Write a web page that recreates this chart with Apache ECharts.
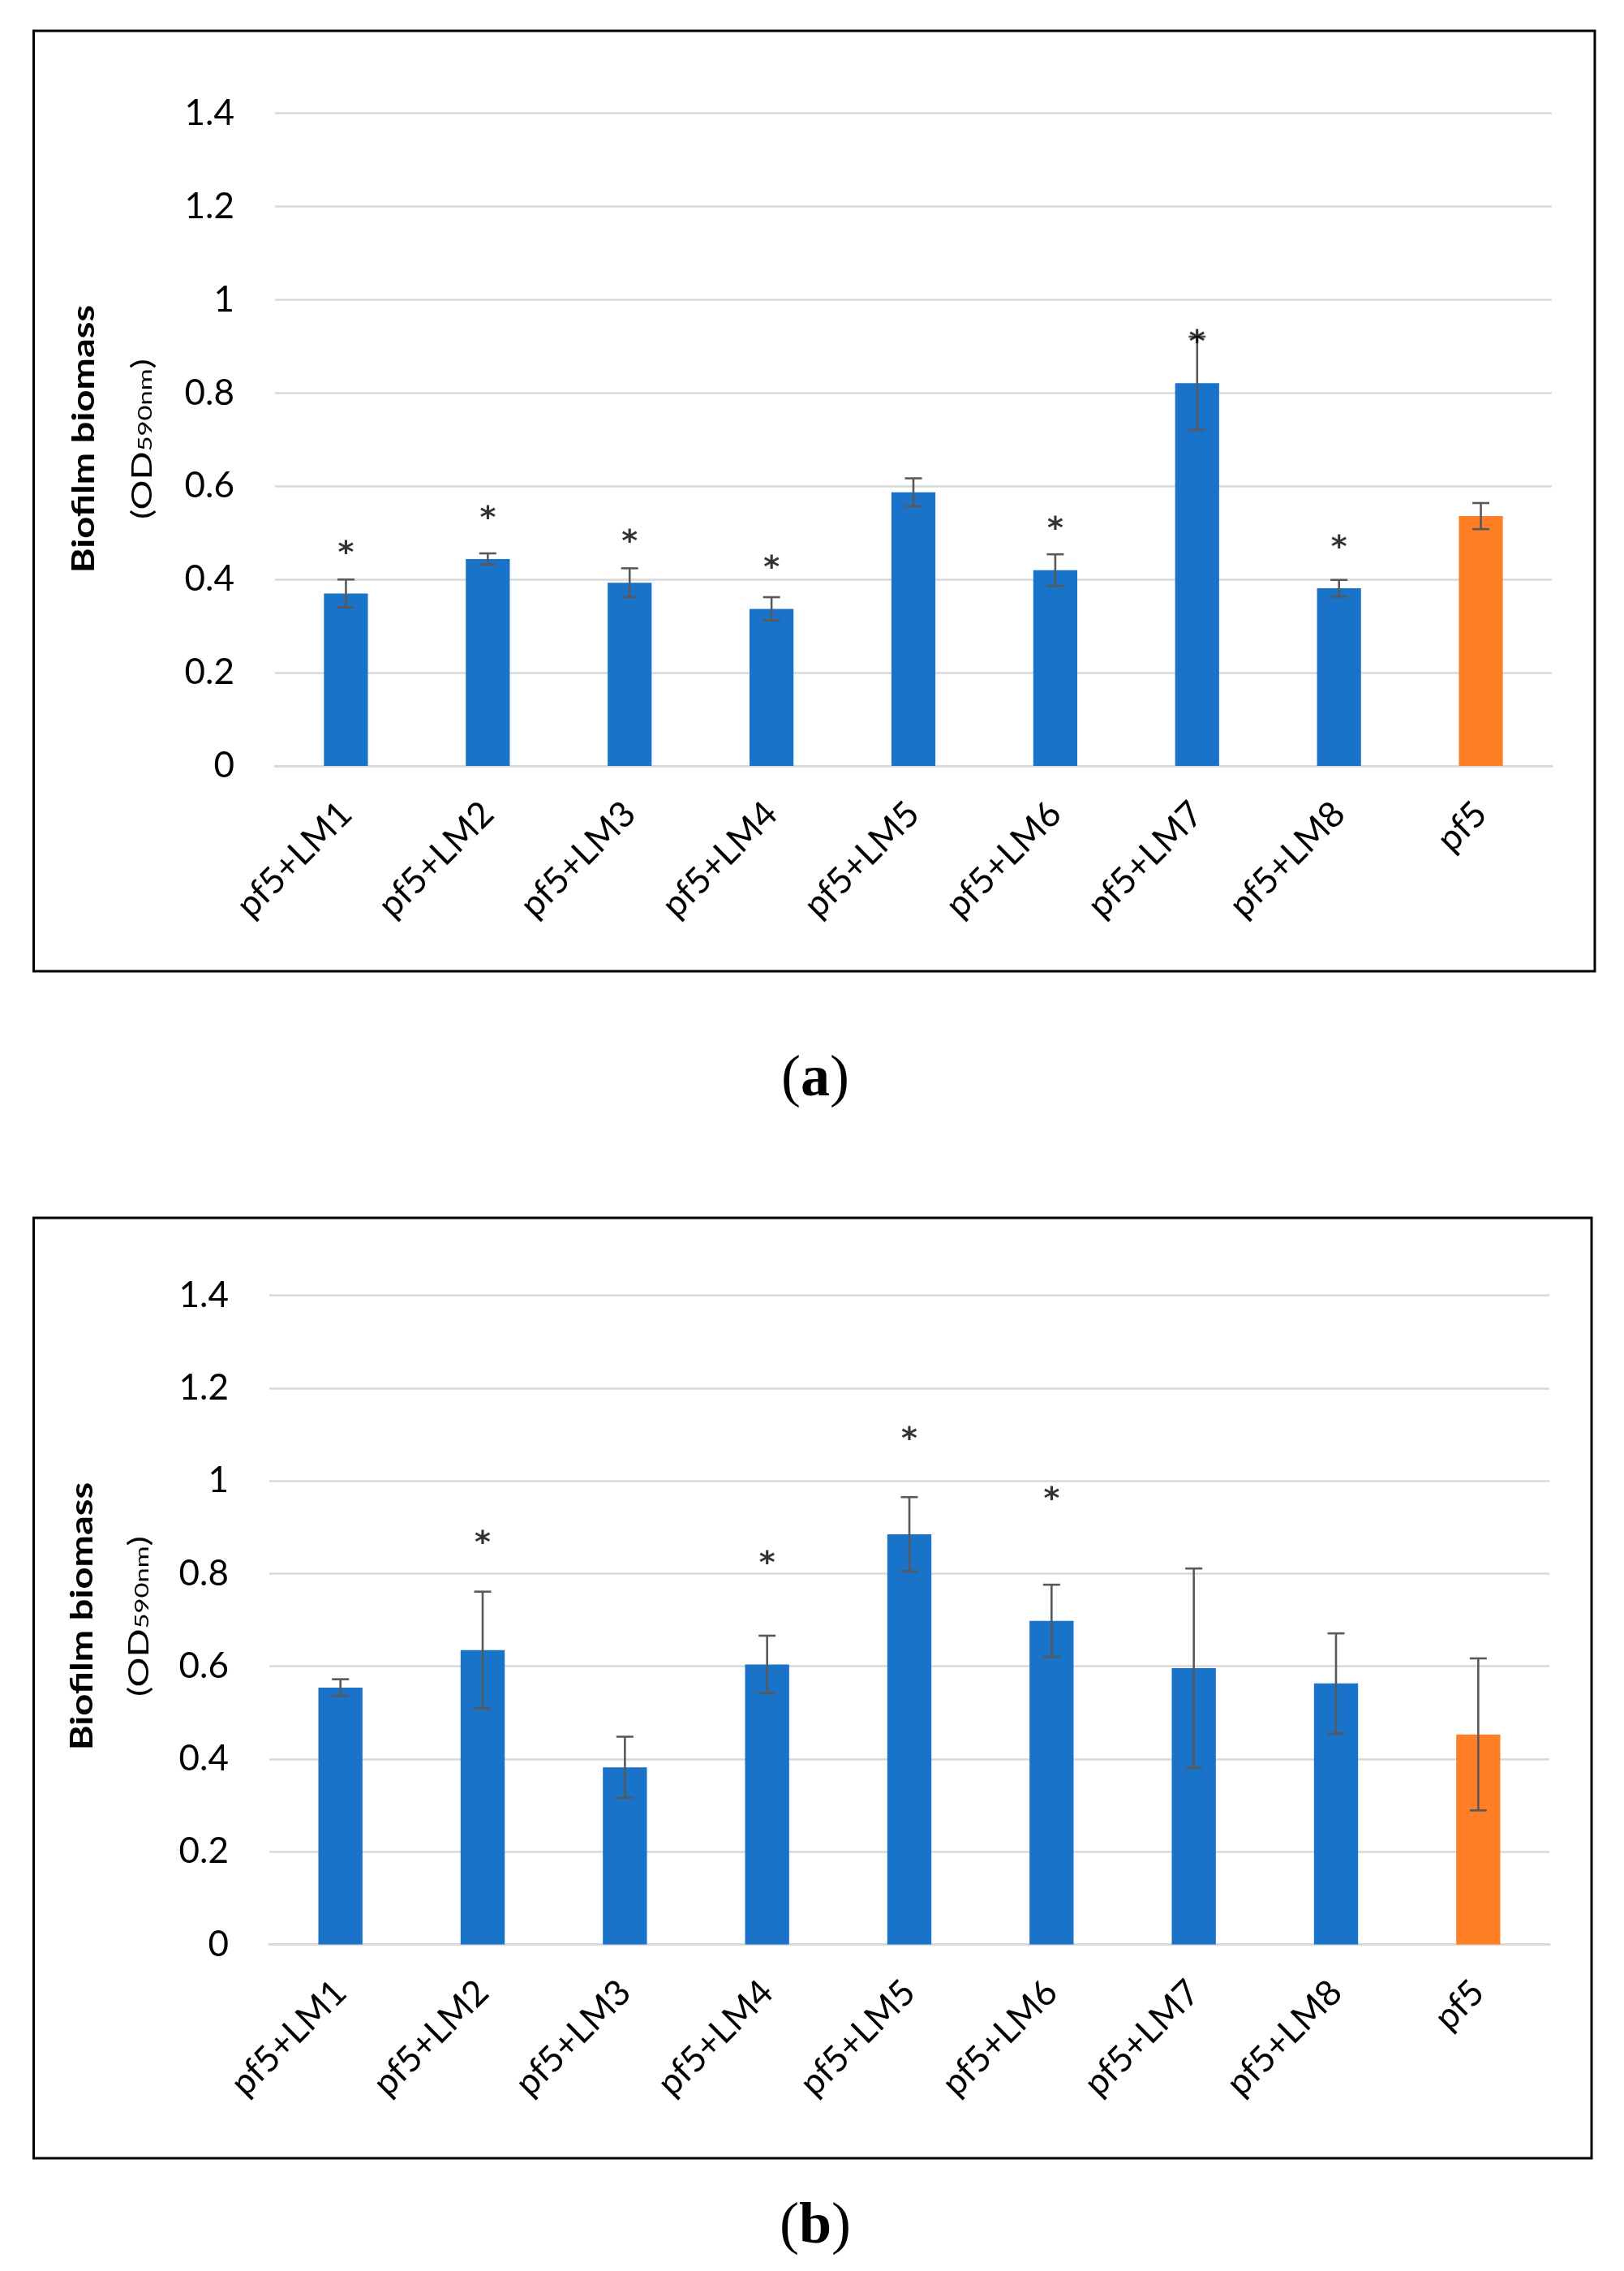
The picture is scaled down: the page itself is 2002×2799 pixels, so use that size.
<!DOCTYPE html>
<html>
<head>
<meta charset="utf-8">
<script src="https://cdn.jsdelivr.net/npm/echarts@6/dist/echarts.min.js"></script>
<style>
html,body{margin:0;padding:0;background:#fff;}
#chart{width:2002px;height:2799px;}
</style>
</head>
<body>
<div id="chart"></div>
<script>
// ---------- data ----------
const categories = ['pf5+LM1','pf5+LM2','pf5+LM3','pf5+LM4','pf5+LM5','pf5+LM6','pf5+LM7','pf5+LM8','pf5'];
const controlCategory = 'pf5';
const yTicks = [0, 0.2, 0.4, 0.6, 0.8, 1, 1.2, 1.4];

// panel (a)
const meansA = [0.370, 0.444, 0.393, 0.337, 0.587, 0.420, 0.821, 0.381, 0.536];
const errsA  = [0.030, 0.012, 0.031, 0.025, 0.030, 0.034, 0.100, 0.018, 0.028];
const starsA = [0.472, 0.547, 0.496, 0.441, null, 0.524, 0.924, 0.483, null];

// panel (b)
const meansB = [0.554, 0.635, 0.382, 0.604, 0.885, 0.698, 0.596, 0.563, 0.453];
const errsB  = [0.018, 0.126, 0.066, 0.062, 0.080, 0.078, 0.215, 0.108, 0.164];
const starsB = [null, 0.881, null, 0.838, 1.105, 0.976, null, null, null];

const yTitle = 'Biofilm biomass';
const yUnitPre = '(OD', yUnitSub = '590nm', yUnitPost = ')';
const captions = ['a', 'b'];

// ---------- styles ----------
const BLUE = '#1873C9';
const ORANGE = '#FF7F27';
const ERR = '#595959';
const GRID = '#D9D9D9';
const FONT = 'Lato';

const chart = echarts.init(document.getElementById('chart'), null, {renderer: 'canvas'});

function barData(means) {
  return means.map((v, i) => ({
    value: v,
    itemStyle: {color: categories[i] === controlCategory ? ORANGE : BLUE}
  }));
}
function errData(means, errs) {
  return means.map((v, i) => [i, v - errs[i], v + errs[i]]);
}
function starData(stars) {
  return stars.map((v, i) => v == null ? null : [i, v]).filter(d => d);
}
function renderErr(params, api) {
  const lo = api.coord([api.value(0), api.value(1)]);
  const hi = api.coord([api.value(0), api.value(2)]);
  const c = 10.5;
  const st = {stroke: ERR, lineWidth: 2.6};
  return {
    type: 'group',
    children: [
      {type: 'line', shape: {x1: lo[0], y1: lo[1], x2: hi[0], y2: hi[1]}, style: st},
      {type: 'line', shape: {x1: hi[0] - c, y1: hi[1], x2: hi[0] + c, y2: hi[1]}, style: st},
      {type: 'line', shape: {x1: lo[0] - c, y1: lo[1], x2: lo[0] + c, y2: lo[1]}, style: st}
    ]
  };
}

const grids = [
  {left: 339, right: 89, top: 139.7, height: 804.3},
  {left: 332, right: 92, top: 1596.7, height: 799.7}
];

function xAxis(idx) {
  return {
    type: 'category', gridIndex: idx, data: categories,
    axisTick: {show: false},
    axisLine: {show: true, lineStyle: {color: GRID, width: 3}},
    axisLabel: {rotate: 45, margin: 52, fontFamily: FONT, fontSize: 44, color: '#000', interval: 0}
  };
}
function yAxis(idx) {
  return {
    type: 'value', gridIndex: idx, min: 0, max: 1.4, interval: 0.2,
    axisLine: {show: false}, axisTick: {show: false},
    splitLine: {show: true, lineStyle: {color: GRID, width: 2.5}},
    axisLabel: {margin: 50, fontFamily: FONT, fontSize: 44, color: '#000',
      formatter: v => { const t = yTicks.find(k => Math.abs(k - v) < 1e-6); return t === undefined ? '' : String(t); }}
  };
}

function seriesFor(idx, means, errs, stars) {
  return [
    {type: 'bar', xAxisIndex: idx, yAxisIndex: idx, data: barData(means), barWidth: '31%', z: 2, animation: false},
    {type: 'custom', xAxisIndex: idx, yAxisIndex: idx, data: errData(means, errs), renderItem: renderErr, z: 3, animation: false},
    {type: 'scatter', xAxisIndex: idx, yAxisIndex: idx, data: starData(stars), symbolSize: 1,
      itemStyle: {color: 'rgba(0,0,0,0)'}, z: 4, animation: false,
      label: {show: true, formatter: '*', position: 'inside', offset: [0, 10], fontFamily: 'DejaVu Sans', fontWeight: 'bold', fontSize: 38, color: '#000'}}
  ];
}

function yTitleGraphics(cx1, cx2, cy) {
  return [
    {type: 'text', x: cx1, y: cy, rotation: Math.PI / 2, scaleX: 1.24, scaleY: 1,
      style: {text: yTitle, font: 'bold 38px ' + FONT, fill: '#000', align: 'center', verticalAlign: 'middle'}},
    {type: 'text', x: cx2, y: cy, rotation: Math.PI / 2, scaleX: 1.36, scaleY: 1,
      style: {text: '{n|' + yUnitPre + '}{s|' + yUnitSub + '}{n|' + yUnitPost + '}', align: 'center', verticalAlign: 'middle', fill: '#000',
        rich: {n: {fontFamily: FONT, fontSize: 34, fill: '#000', verticalAlign: 'bottom', lineHeight: 42},
               s: {fontFamily: FONT, fontSize: 24, fill: '#000', verticalAlign: 'bottom', lineHeight: 42, padding: [0, 0, 2, 0]}}}}
  ];
}
function caption(letter, cx, cy) {
  return {type: 'text', x: cx, y: cy,
    style: {text: '{p|(}{a|' + letter + '}{p|)}', align: 'center', verticalAlign: 'middle',
      rich: {p: {fontFamily: 'Liberation Serif', fontSize: 72, fill: '#000'},
             a: {fontFamily: 'Liberation Serif', fontWeight: 'bold', fontSize: 72, fill: '#000'}}}};
}

const option = {
  backgroundColor: '#fff',
  animation: false,
  grid: grids,
  xAxis: [xAxis(0), xAxis(1)],
  yAxis: [yAxis(0), yAxis(1)],
  series: [].concat(seriesFor(0, meansA, errsA, starsA), seriesFor(1, meansB, errsB, starsB)),
  graphic: [].concat(
    [{type: 'rect', shape: {x: 41.5, y: 38, width: 1924.5, height: 1159}, style: {fill: 'none', stroke: '#000', lineWidth: 3}, z: 10}],
    [{type: 'rect', shape: {x: 41.5, y: 1501, width: 1920.5, height: 1159}, style: {fill: 'none', stroke: '#000', lineWidth: 3}, z: 10}],
    yTitleGraphics(104, 172, 541),
    yTitleGraphics(102, 168, 1992),
    [caption(captions[0], 1005, 1331), caption(captions[1], 1005, 2745)]
  )
};
chart.setOption(option);
</script>
</body>
</html>
